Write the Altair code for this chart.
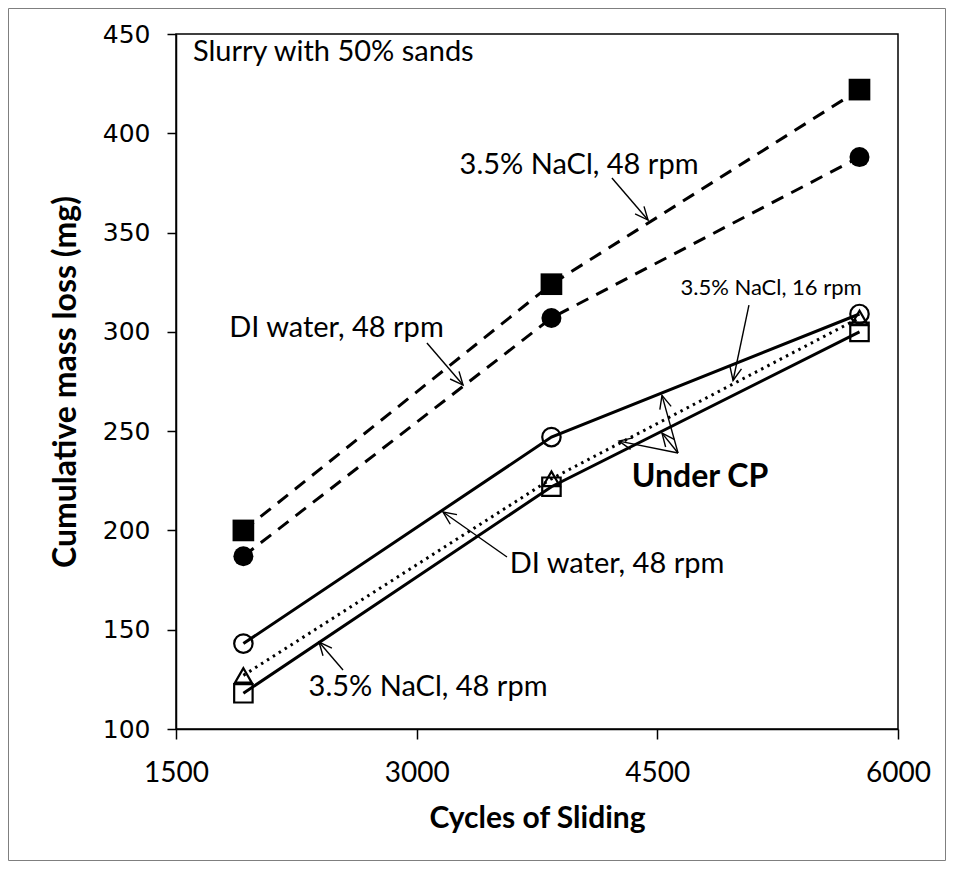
import math
import altair as alt
import pandas as pd

# ---------------- data ----------------
cycles = [1920, 3840, 5760]
nacl48 = [200, 324, 422]        # filled squares, dashed
di48 = [187, 307, 388]          # filled circles, dashed
di48_cp = [143, 247, 309]       # open circles, solid
nacl48_cp = [118, 222, 300]     # open squares, solid
nacl16_cp = [127, 226, 307]     # open triangles, dotted

x_ticks = [1500, 3000, 4500, 6000]
y_ticks = [100, 150, 200, 250, 300, 350, 400, 450]

label_text = ["3.5% NaCl, 48 rpm", "DI water, 48 rpm", "3.5% NaCl, 16 rpm",
              "DI water, 48 rpm", "3.5% NaCl, 48 rpm"]
label_x = [4012, 2500, 5209, 4249, 3071]
label_y = [384, 302, 322, 183, 121]
label_size = [29, 29, 22, 29, 29]

note_text = ["Slurry with 50% sands"]
note_x = [1606]
note_y = [441]

cp_text = ["Under CP"]
cp_x = [4766]
cp_y = [227]

arrow_x1 = [4217, 3064, 5071, 4629, 4629, 4629, 3563, 2541]
arrow_y1 = [377.5, 294.4, 313.5, 239, 239, 239, 186.6, 129.7]
arrow_x2 = [4442, 3289, 4972, 4529, 4261, 4529, 3164, 2391]
arrow_y2 = [356.3, 273.2, 275.5, 268, 245, 249, 209.3, 143.8]

# ---------------- layout ----------------
W, H = 722, 695
XMIN, XMAX, YMIN, YMAX = 1500, 6000, 100, 450
px_c = W / (XMAX - XMIN)
px_m = H / (YMAX - YMIN)

xs = alt.Scale(domain=[XMIN, XMAX], nice=False, zero=False)
ys = alt.Scale(domain=[YMIN, YMAX], nice=False, zero=False)

xaxis = alt.Axis(values=x_ticks, format="d", grid=False, labelFont="Lato", labelFontSize=28,
                 labelColor="black", tickSize=10, tickColor="black", tickWidth=1.5,
                 domainColor="black", domainWidth=1.5, labelPadding=20,
                 labelFlush=False, labelOverlap=False,
                 title="Cycles of Sliding", titleFont="Lato", titleFontSize=30,
                 titleFontWeight="bold", titleColor="black", titlePadding=16)
yaxis = alt.Axis(values=y_ticks, format="d", grid=False, labelFont="DejaVu Sans", labelFontSize=25,
                 labelColor="black", tickSize=9, tickColor="black", tickWidth=1.5,
                 domainColor="black", domainWidth=1.5, labelPadding=17,
                 labelFlush=False, labelOverlap=False,
                 title="Cumulative mass loss (mg)", titleFont="Lato", titleFontSize=32,
                 titleFontWeight="bold", titleColor="black", titlePadding=20)

X = alt.X("x:Q", scale=xs, axis=xaxis)
Y = alt.Y("y:Q", scale=ys, axis=yaxis)

series = [
    (nacl48, "square", True, [13, 9], 3),
    (di48, "circle", True, [13, 9], 3),
    (di48_cp, "circle", False, None, 3),
    (nacl48_cp, "square", False, None, 3),
    (nacl16_cp, "triangle-up", False, [2.5, 4.5], 3),
]

layers = []
# outer frame of the figure
frame = alt.Chart(pd.DataFrame({"k": [0]})).mark_rect(
    filled=False, stroke="#7f7f7f", strokeWidth=1
).encode(x=alt.value(-167.5), x2=alt.value(W + 47.5),
         y=alt.value(-25.5), y2=alt.value(H + 131.5))
layers.append(frame)

for vals, shape, filled, dash, lw in series:
    d = pd.DataFrame({"x": cycles, "y": vals})
    lkw = dict(color="black", strokeWidth=lw)
    if dash is not None:
        lkw["strokeDash"] = dash
    layers.append(alt.Chart(d).mark_line(**lkw).encode(x=X, y=Y))

for vals, shape, filled, dash, lw in series:
    d = pd.DataFrame({"x": cycles, "y": vals})
    if filled:
        size = 470 if shape == "square" else 400
        layers.append(alt.Chart(d).mark_point(shape=shape, filled=True, color="black",
                                              opacity=1, size=size).encode(x=X, y=Y))
    else:
        size = {"circle": 340, "square": 340, "triangle-up": 280}[shape]
        layers.append(alt.Chart(d).mark_point(shape=shape, filled=False, color="black",
                                              opacity=1, strokeWidth=2.2, size=size).encode(x=X, y=Y))

# arrows
ad = pd.DataFrame({"x": arrow_x1, "y": arrow_y1, "x2": arrow_x2, "y2": arrow_y2})
layers.append(alt.Chart(ad).mark_rule(color="black", strokeWidth=1.4).encode(
    x=X, y=Y, x2="x2:Q", y2="y2:Q"))

angles = []
for a, b, c, e in zip(arrow_x1, arrow_y1, arrow_x2, arrow_y2):
    dx = (c - a) * px_c
    dy = -(e - b) * px_m
    angles.append(math.degrees(math.atan2(dx, -dy)) % 360)
hd = pd.DataFrame({"x": arrow_x2, "y": arrow_y2, "ang": angles})
layers.append(alt.Chart(hd).mark_point(
    shape="M -0.45 1 L 0 0 L 0.45 1", filled=False, color="black", opacity=1,
    strokeWidth=1.4, size=680).encode(
    x=X, y=Y, angle=alt.Angle("ang:Q", scale=None)))

# texts
td = pd.DataFrame({"x": label_x, "y": label_y, "t": label_text, "s": label_size})
layers.append(alt.Chart(td).mark_text(font="Lato", color="black", align="center",
                                      baseline="middle").encode(
    x=X, y=Y, text="t:N", size=alt.Size("s:Q", scale=None)))

nd = pd.DataFrame({"x": note_x, "y": note_y, "t": note_text})
layers.append(alt.Chart(nd).mark_text(font="Lato", fontSize=29, color="black",
                                      align="left", baseline="middle").encode(
    x=X, y=Y, text="t:N"))

cd = pd.DataFrame({"x": cp_x, "y": cp_y, "t": cp_text})
layers.append(alt.Chart(cd).mark_text(font="Lato", fontSize=32, fontWeight="bold",
                                      color="black", align="center",
                                      baseline="middle").encode(
    x=X, y=Y, text="t:N"))

chart = alt.layer(*layers).properties(
    width=W, height=H,
    autosize=alt.AutoSizeParams(type="none"),
    padding={"left": 168, "top": 26, "right": 48, "bottom": 132},
    background="white",
).configure_view(stroke="black", strokeWidth=1.5)

chart.save("out.html", embed_options={"renderer": "svg", "actions": False})
